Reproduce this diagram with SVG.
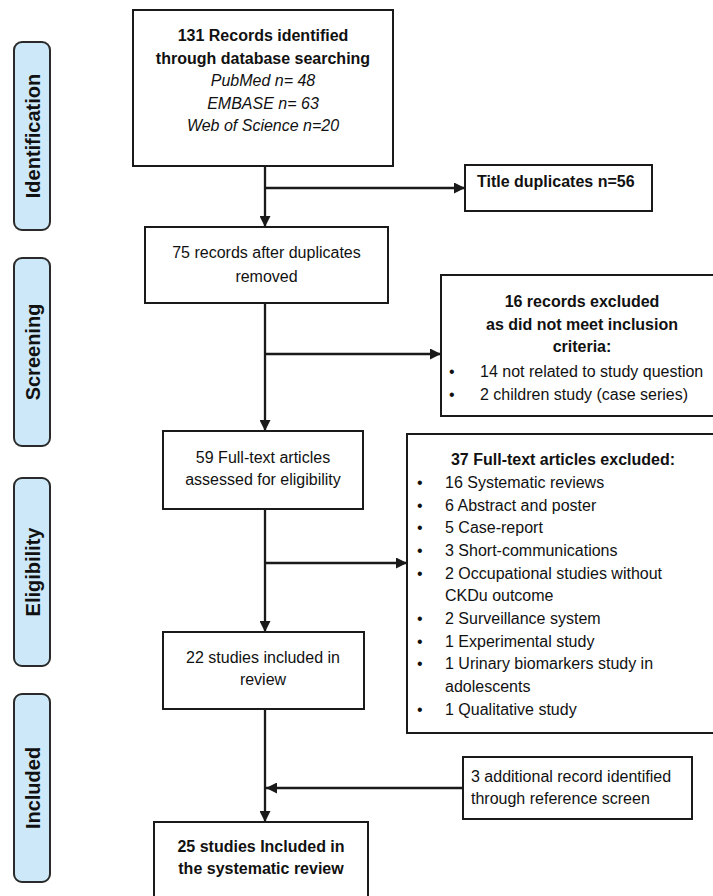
<svg xmlns="http://www.w3.org/2000/svg" width="713" height="896" viewBox="0 0 713 896">
<defs>
<style>
text{font-family:"Liberation Sans",Arial,Helvetica,sans-serif;font-size:16px;fill:#111}
.b{font-weight:bold}
.i{font-style:italic}
.c{text-anchor:middle}
.box{fill:#fff;stroke:#1a1a1a;stroke-width:2}
.phase{fill:#cde9f9;stroke:#2a2a2a;stroke-width:2}
.ph{font-weight:bold;font-size:20px;text-anchor:middle}
.ln{fill:none;stroke:#1a1a1a;stroke-width:2.3}
</style>
<marker id="ah" markerUnits="userSpaceOnUse" markerWidth="11" markerHeight="11" refX="10" refY="5" orient="auto" viewBox="0 0 10 10">
<path d="M0,0 L10,5 L0,10 z" fill="#1a1a1a"/>
</marker>
</defs>
<rect width="713" height="896" fill="#fff"/>

<g id="phase-identification">
<rect class="phase" x="14" y="42" width="36" height="188" rx="8"/>
<text class="ph" transform="translate(40,136) rotate(-90)">Identification</text>
</g>
<g id="phase-screening">
<rect class="phase" x="14" y="258" width="36" height="188" rx="8"/>
<text class="ph" transform="translate(40,352) rotate(-90)">Screening</text>
</g>
<g id="phase-eligibility">
<rect class="phase" x="14" y="478" width="36" height="188" rx="8"/>
<text class="ph" transform="translate(40,572) rotate(-90)">Eligibility</text>
</g>
<g id="phase-included">
<rect class="phase" x="14" y="694" width="36" height="188" rx="8"/>
<text class="ph" transform="translate(40,788) rotate(-90)">Included</text>
</g>

<g id="connectors">
<line class="ln" x1="265" y1="166" x2="265" y2="227" marker-end="url(#ah)"/>
<line class="ln" x1="265" y1="188" x2="465" y2="188" marker-end="url(#ah)"/>
<line class="ln" x1="265" y1="303" x2="265" y2="431" marker-end="url(#ah)"/>
<line class="ln" x1="265" y1="354" x2="441" y2="354" marker-end="url(#ah)"/>
<line class="ln" x1="265" y1="509" x2="265" y2="632" marker-end="url(#ah)"/>
<line class="ln" x1="265" y1="563" x2="407" y2="563" marker-end="url(#ah)"/>
<line class="ln" x1="265" y1="709" x2="265" y2="822" marker-end="url(#ah)"/>
<line class="ln" x1="463" y1="788" x2="266" y2="788" marker-end="url(#ah)"/>
</g>

<g id="node-records">
<rect class="box" x="133" y="10" width="260" height="156"/>
<text class="b c" x="263" y="40.5">131 Records identified</text>
<text class="b c" x="263" y="63.5">through database searching</text>
<text class="i c" x="263" y="86">PubMed n= 48</text>
<text class="i c" x="263" y="108.5">EMBASE n= 63</text>
<text class="i c" x="263" y="131">Web of Science n=20</text>
</g>

<g id="node-duplicates">
<rect class="box" x="465" y="165" width="187" height="46"/>
<text class="b" x="477" y="186.5">Title duplicates n=56</text>
</g>

<g id="node-after-dup">
<rect class="box" x="145" y="227" width="243" height="76"/>
<text class="c" x="266.5" y="257.5">75 records after duplicates</text>
<text class="c" x="266.5" y="282">removed</text>
</g>

<g id="node-excluded-screen">
<rect class="box" x="441" y="275" width="280" height="141"/>
<text class="b c" x="582" y="306.5">16 records excluded</text>
<text class="b c" x="582" y="329.5">as did not meet inclusion</text>
<text class="b c" x="582" y="352">criteria:</text>
<text x="449" y="377">•</text>
<text x="480" y="377">14 not related to study question</text>
<text x="449" y="400">•</text>
<text x="480" y="400">2 children study (case series)</text>
</g>

<g id="node-fulltext">
<rect class="box" x="163" y="431" width="200" height="78"/>
<text class="c" x="263" y="462.5">59 Full-text articles</text>
<text class="c" x="263" y="484.5">assessed for eligibility</text>
</g>

<g id="node-excluded-fulltext">
<rect class="box" x="407" y="434" width="314" height="299"/>
<text class="b c" x="563" y="465">37 Full-text articles excluded:</text>
<text x="417" y="488">•</text><text x="445" y="488">16 Systematic reviews</text>
<text x="417" y="510.7">•</text><text x="445" y="510.7">6 Abstract and poster</text>
<text x="417" y="533.3">•</text><text x="445" y="533.3">5 Case-report</text>
<text x="417" y="556">•</text><text x="445" y="556">3 Short-communications</text>
<text x="417" y="578.7">•</text><text x="445" y="578.7">2 Occupational studies without</text>
<text x="445" y="601.3">CKDu outcome</text>
<text x="417" y="624">•</text><text x="445" y="624">2 Surveillance system</text>
<text x="417" y="646.7">•</text><text x="445" y="646.7">1 Experimental study</text>
<text x="417" y="669.3">•</text><text x="445" y="669.3">1 Urinary biomarkers study in</text>
<text x="445" y="692">adolescents</text>
<text x="417" y="714.7">•</text><text x="445" y="714.7">1 Qualitative study</text>
</g>

<g id="node-included-review">
<rect class="box" x="163" y="632" width="201" height="77"/>
<text class="c" x="263" y="663">22 studies included in</text>
<text class="c" x="263" y="685">review</text>
</g>

<g id="node-additional">
<rect class="box" x="463" y="757" width="229" height="62"/>
<text x="471" y="781.5">3 additional record identified</text>
<text x="471" y="803.5">through reference screen</text>
</g>

<g id="node-final">
<rect class="box" x="154" y="822" width="214" height="80"/>
<text class="b c" x="261" y="851.5">25 studies Included in</text>
<text class="b c" x="261" y="873.5">the systematic review</text>
</g>
</svg>
